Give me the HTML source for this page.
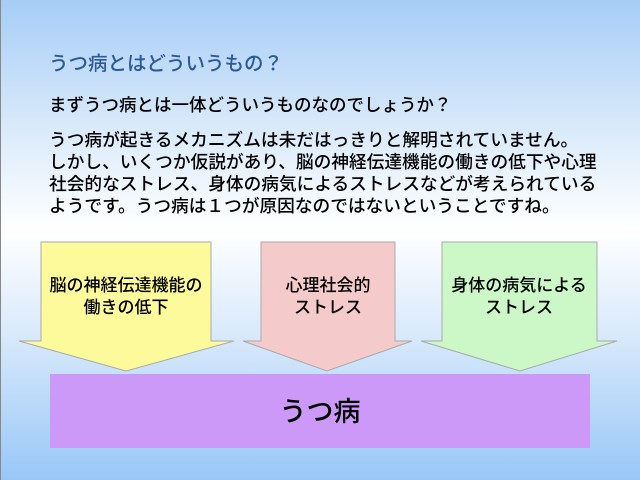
<!DOCTYPE html>
<html><head><meta charset="utf-8"><style>
body{margin:0;width:640px;height:480px;overflow:hidden;position:relative;font-family:"Liberation Sans","Noto Sans CJK JP",sans-serif;
background:linear-gradient(to bottom,#a6cdf6 0%,#d6e8fa 25%,#ffffff 48%,#d8e9fb 70%,#98c7f7 100%);}
.t{position:absolute;left:49px;white-space:nowrap;font-weight:500;}
</style></head><body>
<div style="position:absolute;left:0;top:0;width:1px;height:480px;background:#888"></div>
<div class="t" style="top:47px;font-size:19.5px;color:#2b5a97">うつ病とはどういうもの？</div>
<div class="t" style="top:92px;font-size:17.5px;color:#000">まずうつ病とは一体どういうものなのでしょうか？</div>
<div class="t" style="top:129px;font-size:17.7px;line-height:22px;color:#000">うつ病が起きるメカニズムは未だはっきりと解明されていません。<br>しかし、いくつか仮説があり、脳の神経伝達機能の働きの低下や心理<br>社会的なストレス、身体の病気によるストレスなどが考えられている<br>ようです。うつ病は１つが原因なのではないということですね。</div>
<svg width="640" height="480" style="position:absolute;left:0;top:0">
<polygon points="41,242 211,242 211,341 234,341 126,371 19,341 41,341" fill="#fdfa9c" stroke="#aaa" stroke-width="1"/>
<polygon points="261,242 395,242 395,341 412,341 327,371 243,341 261,341" fill="#f5caca" stroke="#aaa" stroke-width="1"/>
<polygon points="442,242 597,242 597,341 617,341 520,371 421,341 442,341" fill="#ccf8c8" stroke="#aaa" stroke-width="1"/>
<rect x="50" y="374" width="540" height="74" fill="#cc99f8"/>
<g font-family="Liberation Sans, Noto Sans CJK JP, sans-serif" font-size="17" font-weight="500" text-anchor="middle" fill="#000">
<text x="126" y="291">脳の神経伝達機能の</text><text x="126" y="313">働きの低下</text>
<text x="328" y="291">心理社会的</text><text x="328" y="313">ストレス</text>
<text x="519" y="291">身体の病気による</text><text x="519" y="313">ストレス</text>
<text x="320" y="421" font-size="27">うつ病</text>
</g>
</svg>
</body></html>
